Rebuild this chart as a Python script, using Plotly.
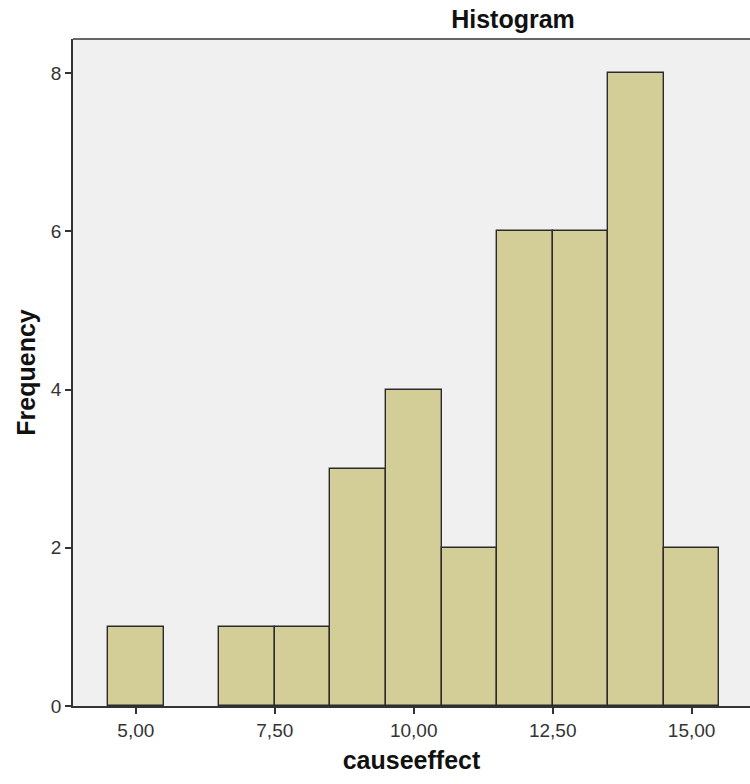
import plotly.graph_objects as go

bin_centers = [5, 7, 8, 9, 10, 11, 12, 13, 14, 15]
frequencies = [1, 1, 1, 3, 4, 2, 6, 6, 8, 2]
x_tick_vals = [5.0, 7.5, 10.0, 12.5, 15.0]
x_tick_text = ["5,00", "7,50", "10,00", "12,50", "15,00"]
y_tick_vals = [0, 2, 4, 6, 8]

fig = go.Figure()
fig.add_trace(go.Bar(
    x=bin_centers, y=frequencies, width=1,
    marker=dict(color="#D3CE98", line=dict(color="#2b2b2b", width=1.4)),
    hoverinfo="x+y",
))

font_family = "Liberation Sans, Arial, sans-serif"
W, H = 750, 784
fig.update_layout(
    width=W, height=H,
    margin=dict(l=73, r=0, t=39, b=78),
    paper_bgcolor="white", plot_bgcolor="#F0F0F0",
    showlegend=False,
    font=dict(family=font_family, color="#333333"),
    title=dict(text="<b>Histogram</b>", x=513/W, xanchor="center", xref="container",
               y=1-19/H, yanchor="middle", yref="container",
               font=dict(size=25, color="#111111", family=font_family)),
    bargap=0,
)
fig.update_xaxes(
    range=[3.87, 16.05], tickvals=x_tick_vals, ticktext=x_tick_text,
    showgrid=False, zeroline=False,
    showline=True, linecolor="#333333", linewidth=1.5, mirror=False,
    ticks="outside", ticklen=6, tickwidth=1.5, tickcolor="#333333",
    tickfont=dict(size=19, color="#333333"),
    title=dict(text="<b>causeeffect</b>", standoff=12, font=dict(size=25, color="#111111")),
)
fig.update_yaxes(
    range=[0, 8.43], tickvals=y_tick_vals,
    showgrid=False, zeroline=False,
    showline=True, linecolor="#333333", linewidth=1.5,
    ticks="outside", ticklen=6, tickwidth=1.5, tickcolor="#333333",
    tickfont=dict(size=19, color="#333333"),
    title=dict(text="<b>Frequency</b>", standoff=8, font=dict(size=25, color="#111111")),
)
# top border of plot area
fig.add_shape(type="line", xref="paper", yref="paper", x0=0, x1=1, y0=1, y1=1,
              line=dict(color="#666666", width=2))

fig.write_html("out.html",
               config={"displayModeBar": False},
               post_script="document.body.style.margin='0';document.body.style.overflow='hidden';")
